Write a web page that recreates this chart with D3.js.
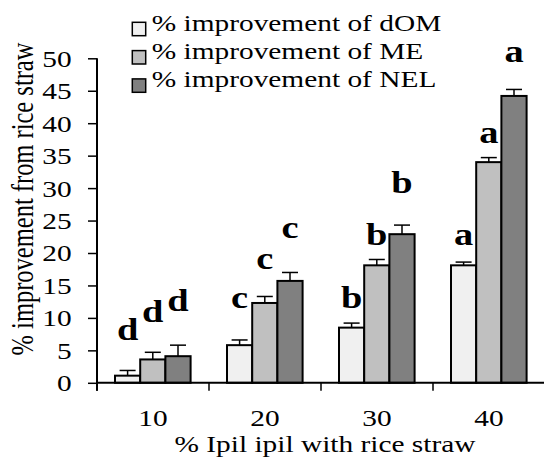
<!DOCTYPE html>
<html>
<head>
<meta charset="utf-8">
<script src="https://cdn.jsdelivr.net/npm/d3@7"></script>
<style>
  html, body { margin: 0; padding: 0; background: #fff; }
  svg { display: block; }
  text { font-family: "Liberation Serif", "Times New Roman", serif; fill: #000; }
</style>
</head>
<body>
<svg id="chart" width="544" height="459"></svg>
<script>
// Ipil ipil share mixed into rice straw (x categories)
const categories = ["10", "20", "30", "40"];
const seriesNames = ["% improvement of dOM", "% improvement of ME", "% improvement of NEL"];

// Mean improvement (%) over plain rice straw
const dOM = [1.1, 5.8, 8.5, 18.1];
const ME  = [3.6, 12.3, 18.1, 34.0];
const NEL = [4.1, 15.7, 22.9, 44.2];

// Standard error bars (upper half)
const dOMErr = [0.8, 0.8, 0.7, 0.5];
const MEErr  = [1.1, 1.0, 0.9, 0.7];
const NELErr = [1.7, 1.3, 1.4, 1.0];

// Significance letters and the height (in % units) where each sits
const dOMLetters = ["d", "c", "b", "a"];
const MELetters  = ["d", "c", "b", "a"];
const NELLetters = ["d", "c", "b", "a"];
const dOMLetterAt = [6.6, 11.5, 11.5, 21.2];
const MELetterAt  = [9.3, 17.6, 21.2, 36.9];
const NELLetterAt = [11.0, 22.3, 29.2, 49.5];

const yTicks = [0, 5, 10, 15, 20, 25, 30, 35, 40, 45, 50];

const fills = ["#f0f0f0", "#c0c0c0", "#808080"];
const sx = 1.25;            // wide text rendering
const serif = '"Liberation Serif", "Times New Roman", serif';

const series = [
  { name: seriesNames[0], values: dOM, err: dOMErr, letters: dOMLetters, at: dOMLetterAt },
  { name: seriesNames[1], values: ME,  err: MEErr,  letters: MELetters,  at: MELetterAt },
  { name: seriesNames[2], values: NEL, err: NELErr, letters: NELLetters, at: NELLetterAt }
];

const svg = d3.select("#chart");

const x0 = d3.scaleBand().domain(categories).range([97, 545]).padding(0);
const x1 = d3.scaleBand().domain(d3.range(series.length)).range([18, 93.6]).padding(0);
const y = d3.scaleLinear().domain([0, 50]).range([382.8, 58.3]);

// Bars
const groups = svg.append("g").selectAll("g")
  .data(categories)
  .join("g")
  .attr("transform", d => `translate(${x0(d)},0)`);

groups.each(function (cat, ci) {
  const g = d3.select(this);
  series.forEach((s, si) => {
    const bx = x1(si), bw = x1.bandwidth();
    const v = s.values[ci], e = s.err[ci];
    const cx = bx + bw / 2;
    // error bar
    g.append("line")
      .attr("x1", cx).attr("x2", cx)
      .attr("y1", y(v)).attr("y2", y(v + e))
      .attr("stroke", "#000").attr("stroke-width", 1.5);
    g.append("line")
      .attr("x1", cx - 8).attr("x2", cx + 8)
      .attr("y1", y(v + e)).attr("y2", y(v + e))
      .attr("stroke", "#000").attr("stroke-width", 1.5);
    g.append("rect")
      .attr("x", bx).attr("y", y(v))
      .attr("width", bw).attr("height", y(0) - y(v))
      .attr("fill", fills[si])
      .attr("stroke", "#000").attr("stroke-width", 2);
    // letter
    g.append("text")
      .attr("transform", `translate(${cx},${y(s.at[ci])}) scale(1.2,1)`)
      .attr("text-anchor", "middle")
      .style("font-size", "32px")
      .style("font-weight", "bold")
      .text(s.letters[ci]);
  });
});

// Y axis
const yAxis = svg.append("g")
  .attr("transform", "translate(97,0)")
  .call(d3.axisLeft(y).tickValues(yTicks).tickSize(9).tickSizeOuter(0));
yAxis.select(".domain").attr("stroke", "#000").attr("stroke-width", 2)
  .attr("d", `M0,${y(50)}V${y(0) + 8}`);
yAxis.selectAll(".tick line").attr("stroke", "#000").attr("stroke-width", 1.5);
yAxis.selectAll(".tick text")
  .attr("x", -25.3 / sx)
  .attr("dy", "0.34em")
  .attr("transform", `scale(${sx},1)`)
  .style("font-family", serif)
  .style("font-size", "23.5px")
  .attr("fill", "#000");

// X axis
const xAxis = svg.append("g")
  .attr("transform", `translate(0,${y(0)})`)
  .call(d3.axisBottom(x0).tickSize(0).tickSizeOuter(0));
xAxis.select(".domain").attr("stroke", "#000").attr("stroke-width", 2)
  .attr("d", `M${x0.range()[0]},0H${x0.range()[1]}`);
xAxis.selectAll(".tick text")
  .attr("y", 43.2).attr("dy", 0)
  .attr("transform", `scale(${sx},1)`)
  .style("font-family", serif)
  .style("font-size", "23.5px")
  .attr("fill", "#000");
// category boundary ticks
xAxis.selectAll(".bound")
  .data(categories)
  .join("line")
  .attr("class", "bound")
  .attr("x1", d => x0(d)).attr("x2", d => x0(d))
  .attr("y1", 0).attr("y2", 8)
  .attr("stroke", "#000").attr("stroke-width", 1.5);

// Axis titles
svg.append("text")
  .attr("transform", `translate(325,451.7) scale(${sx},1)`)
  .attr("text-anchor", "middle")
  .style("font-size", "23.5px")
  .text("% Ipil ipil with rice straw");

svg.append("text")
  .attr("transform", `translate(33,199) rotate(-90) scale(1,${sx})`)
  .attr("text-anchor", "middle")
  .style("font-size", "24.5px")
  .text("% improvement from rice straw");

// Legend
const legend = svg.append("g").attr("transform", "translate(132.3,22.3)");
series.forEach((s, i) => {
  const row = legend.append("g").attr("transform", `translate(0,${i * 28.3})`);
  row.append("rect")
    .attr("x", 0).attr("y", 0).attr("width", 13.4).attr("height", 13.4)
    .attr("fill", fills[i]).attr("stroke", "#000").attr("stroke-width", 1.5);
  row.append("text")
    .attr("transform", `translate(19.4,8.6) scale(${sx},1)`)
    .style("font-size", "23.5px")
    .text(s.name);
});
</script>
</body>
</html>
